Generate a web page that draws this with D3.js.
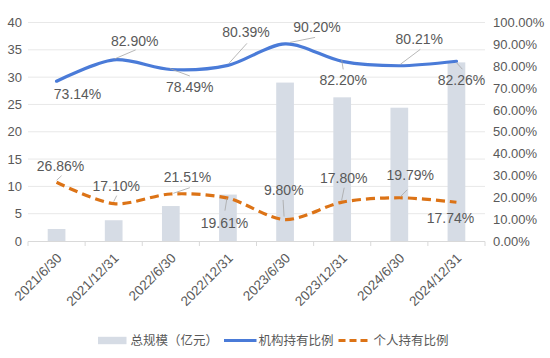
<!DOCTYPE html>
<html lang="zh">
<head>
<meta charset="UTF-8">
<title>规模与持有比例</title>
<script src="https://cdnjs.cloudflare.com/ajax/libs/d3/7.8.5/d3.min.js"></script>
<style>
  body { margin: 0; background: #fff; }
  svg { display: block; font-family: "Liberation Sans", Arial, "Noto Sans CJK SC", sans-serif; }
</style>
</head>
<body>
<div id="chart"></div>
<script>
// data
var dates = ["2021/6/30", "2021/12/31", "2022/6/30", "2022/12/31", "2023/6/30", "2023/12/31", "2024/6/30", "2024/12/31"];
var totalScale = [2.2, 3.8, 6.4, 8.5, 29.0, 26.3, 24.4, 32.7];          // 总规模（亿元）
var instRatio = [73.14, 82.90, 78.49, 80.39, 90.20, 82.20, 80.21, 82.26];  // 机构持有比例 %
var indivRatio = [26.86, 17.10, 21.51, 19.61, 9.80, 17.80, 19.79, 17.74];  // 个人持有比例 %
var leftTicks = [0, 5, 10, 15, 20, 25, 30, 35, 40];
var rightTicks = [0, 10, 20, 30, 40, 50, 60, 70, 80, 90, 100];
var legendNames = ["总规模（亿元）", "机构持有比例", "个人持有比例"];

// label placement (offset of label centre from point) and leader lines
var instLabelPos = [[21, 13], [21, -19], [19, 18], [18, -33], [32, -17], [1, 19], [20, -27], [5, 19]];
var instLeaders = [null, [1, -1, 22, -10], [-1, -1, 19, 6.5], [1, -2, 19, -22], [5, -1.5, 30, -6.5], [-0.5, -1.4, 1, 8], [1, -1.4, 21, -16.4], [0, 1.4, 6, 8]];
var indivLabelPos = [[4, -16.6], [2.6, -18], [16.7, -17.3], [-3.5, 24.5], [-1.3, -29.6], [1.5, -24.4], [11, -22.8], [-6, 16]];
var indivLeaders = [[0, -2, 5, -6.6], [0, -2, 3, -8], [2.5, -0.7, 19, -6.3], [-1, 0, -3, 12.5], [-2, -19.6, -1, -3], [2, -14.4, -0.5, -2], [1, -1, 8, -8], null];

var W = 550, H = 358;
var plotL = 28, plotR = 485, plotT = 22.5, plotB = 241;
var textColor = "#595959";
var blue = "#4A7BD8", orange = "#DC7316", barColor = "#D6DCE5";

var svg = d3.select("#chart").append("svg").attr("width", W).attr("height", H);

var x = d3.scaleBand().domain(dates).range([plotL, plotR]).paddingInner(0.69).paddingOuter(0.345);
var xc = function(d) { return x(d) + x.bandwidth() / 2; };
var yL = d3.scaleLinear().domain([0, 40]).range([plotB, plotT]);
var yR = d3.scaleLinear().domain([0, 100]).range([plotB, plotT]);

// gridlines
svg.append("g").selectAll("line").data(leftTicks.slice(1)).enter().append("line")
    .attr("x1", plotL).attr("x2", plotR)
    .attr("y1", function(d) { return yL(d); }).attr("y2", function(d) { return yL(d); })
    .attr("stroke", "#E8E8E8").attr("stroke-width", 1);

// left axis labels
var la = svg.append("g").attr("transform", "translate(" + (plotL - 6) + ",0)")
    .call(d3.axisLeft(yL).tickValues(leftTicks).tickSize(0).tickPadding(0));
la.select(".domain").remove();
la.selectAll("text").attr("fill", textColor).attr("font-size", 13).attr("font-family", null);

// right axis labels
var ra = svg.append("g").attr("transform", "translate(" + (plotR + 8) + ",0)")
    .call(d3.axisRight(yR).tickValues(rightTicks).tickSize(0).tickPadding(0)
        .tickFormat(function(d) { return d.toFixed(2) + "%"; }));
ra.select(".domain").remove();
ra.selectAll("text").attr("fill", textColor).attr("font-size", 13).attr("font-family", null);

// bars
svg.append("g").selectAll("rect").data(totalScale).enter().append("rect")
    .attr("x", function(d, i) { return x(dates[i]); })
    .attr("width", x.bandwidth())
    .attr("y", function(d) { return yL(d); })
    .attr("height", function(d) { return yL(0) - yL(d); })
    .attr("fill", barColor);

// x axis
var xa = svg.append("g").attr("transform", "translate(0," + plotB + ")")
    .call(d3.axisBottom(x).tickSize(0).tickFormat(""));
xa.select(".domain").attr("stroke", "#D9D9D9").attr("d", "M" + plotL + ",0.5H" + plotR);
var bounds = dates.map(function(d) { return x(d) - x.step() * x.paddingInner() / 2; });
bounds.push(plotR);
xa.selectAll(".bnd").data(bounds).enter().append("line")
    .attr("x1", function(d) { return d; }).attr("x2", function(d) { return d; })
    .attr("y1", 0.5).attr("y2", 5).attr("stroke", "#D9D9D9");

svg.append("g").selectAll("text").data(dates).enter().append("text")
    .attr("transform", function(d) { return "translate(" + (xc(d) + 6) + "," + (plotB + 18) + ") rotate(-45)"; })
    .attr("text-anchor", "end")
    .attr("fill", textColor).attr("font-size", 13.5)
    .text(function(d) { return d; });

// lines
var curve = d3.curveCardinal.tension(0.1);
var line = function(scale) {
    return d3.line().x(function(d, i) { return xc(dates[i]); }).y(function(d) { return scale(d); }).curve(curve);
};

svg.append("path").datum(instRatio)
    .attr("fill", "none").attr("stroke", blue).attr("stroke-width", 3.2)
    .attr("stroke-linecap", "round").attr("d", line(yR));

svg.append("path").datum(indivRatio)
    .attr("fill", "none").attr("stroke", orange).attr("stroke-width", 3.2)
    .attr("stroke-dasharray", "9,5").attr("d", line(yR));

// data labels
function drawLabels(values, pos, leaders) {
    var g = svg.append("g");
    values.forEach(function(v, i) {
        var px = xc(dates[i]), py = yR(v);
        var ld = leaders[i];
        if (ld) {
            g.append("line").attr("x1", px + ld[0]).attr("y1", py + ld[1])
                .attr("x2", px + ld[2]).attr("y2", py + ld[3])
                .attr("stroke", "#A6A6A6").attr("stroke-width", 0.8);
        }
        g.append("text").attr("x", px + pos[i][0]).attr("y", py + pos[i][1])
            .attr("dy", "0.35em").attr("text-anchor", "middle")
            .attr("fill", textColor).attr("font-size", 14)
            .text(v.toFixed(2) + "%");
    });
}
drawLabels(instRatio, instLabelPos, instLeaders);
drawLabels(indivRatio, indivLabelPos, indivLeaders);

// legend
var lg = svg.append("g").attr("font-size", 12.5).attr("fill", textColor);
var ly = 340.5;
lg.append("rect").attr("x", 98).attr("y", ly - 3.7).attr("width", 28.5).attr("height", 7.4).attr("fill", barColor);
lg.append("text").attr("x", 130.5).attr("y", ly).attr("dy", "0.35em").text(legendNames[0]);
lg.append("line").attr("x1", 224).attr("x2", 256.5).attr("y1", ly).attr("y2", ly)
    .attr("stroke", blue).attr("stroke-width", 3);
lg.append("text").attr("x", 258.5).attr("y", ly).attr("dy", "0.35em").text(legendNames[1]);
lg.append("line").attr("x1", 338.5).attr("x2", 370).attr("y1", ly).attr("y2", ly)
    .attr("stroke", orange).attr("stroke-width", 3).attr("stroke-dasharray", "7,4");
lg.append("text").attr("x", 373.5).attr("y", ly).attr("dy", "0.35em").text(legendNames[2]);
</script>
</body>
</html>
